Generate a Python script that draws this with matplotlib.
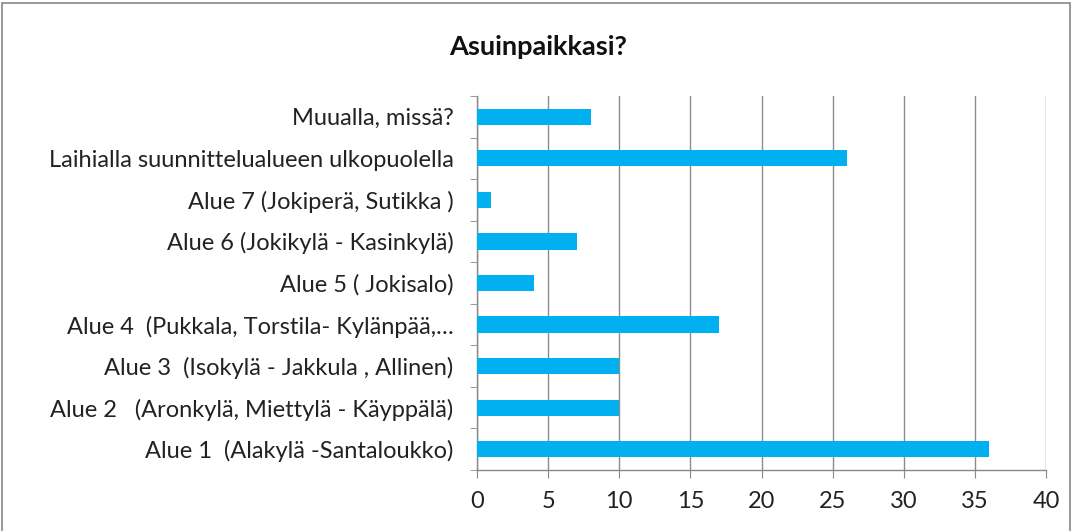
import numpy as np
import matplotlib.pyplot as plt
from matplotlib.patches import Rectangle

# data (bottom -> top)
categories = ['Alue 1  (Alakylä -Santaloukko)',
              'Alue 2   (Aronkylä, Miettylä - Käyppälä)',
              'Alue 3  (Isokylä - Jakkula , Allinen)',
              'Alue 4  (Pukkala, Torstila- Kylänpää,…',
              'Alue 5 ( Jokisalo)',
              'Alue 6 (Jokikylä - Kasinkylä)',
              'Alue 7 (Jokiperä, Sutikka )',
              'Laihialla suunnittelualueen ulkopuolella',
              'Muualla, missä?']
counts = [36, 10, 10, 17, 4, 7, 1, 26, 8]
x_ticks = [0, 5, 10, 15, 20, 25, 30, 35, 40]

plt.rcParams['font.family'] = ['Lato', 'DejaVu Sans']
fig = plt.figure(figsize=(10.78, 5.31), dpi=100)
ax = fig.add_axes([477/1078, 1 - 470/531, (1046-477)/1078, (470-96)/531])

y = np.arange(len(categories))
ax.barh(y, counts, height=0.39, color='#00B0F0', zorder=3)

ax.set_xlim(0, 40)
ax.set_ylim(-0.5, len(categories) - 0.5)
ax.set_xticks(x_ticks)
ax.set_xticklabels([str(v) for v in x_ticks], fontsize=17, color='#222222')
ax.set_yticks(y)
ax.set_yticklabels(categories, fontsize=17, color='#222222')
ax.set_yticks(np.arange(-0.5, len(categories)), minor=True)
ax.tick_params(axis='y', which='major', length=0, pad=17)
ax.tick_params(axis='y', which='minor', length=5, color='#888888', direction='out')
ax.tick_params(axis='x', length=6, color='#888888', pad=9)
ax.xaxis.grid(True, color='#8c8c8c', linewidth=1.0, zorder=0)

for s in ['top', 'right']:
    ax.spines[s].set_visible(False)
for s in ['left', 'bottom']:
    ax.spines[s].set_color('#888888')
    ax.spines[s].set_linewidth(1.0)

fig.text(538/1078, 1 - 47/531, 'Asuinpaikkasi?', ha='center', va='center',
         fontsize=19.5, fontweight='bold', color='#111111')

fig.patches.append(Rectangle((2/1078, -0.01), 1068/1078, 1 - 3/531 + 0.01,
                             transform=fig.transFigure, fill=False,
                             edgecolor='#888888', linewidth=1.2))

plt.savefig('out.png', dpi=100)
